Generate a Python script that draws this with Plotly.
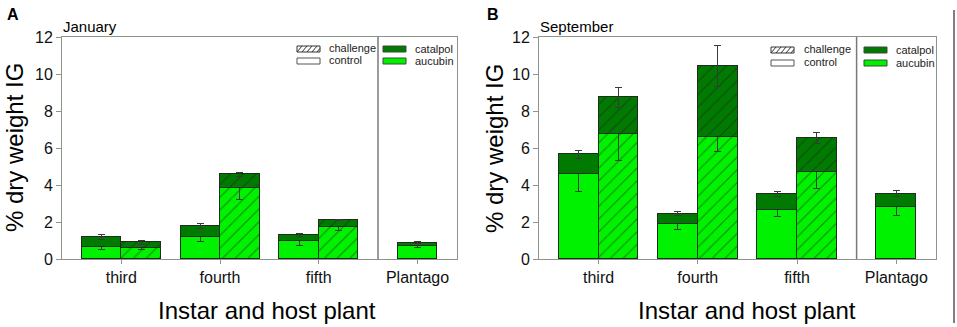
import plotly.graph_objects as go

W, H = 957, 327

# ---------------- data ----------------
categories = ["third", "fourth", "fifth", "Plantago"]
challenge_categories = ["third", "fourth", "fifth"]

months = ["January", "September"]
panel_letters = ["A", "B"]

# January (panel A)
jan_control_aucubin = [0.67, 1.17, 0.97, 0.72]
jan_control_catalpol = [0.50, 0.61, 0.34, 0.16]
jan_challenge_aucubin = [0.61, 3.85, 1.75]
jan_challenge_catalpol = [0.29, 0.72, 0.35]
jan_control_aucubin_err = [0.14, 0.25, 0.24, 0.12]
jan_control_catalpol_err = [0.14, 0.15, 0.09, 0.06]
jan_challenge_aucubin_err = [0.10, 0.63, 0.19]
jan_challenge_catalpol_err = [0.10, 0.09, 0.04]

# September (panel B)
sep_control_aucubin = [4.57, 1.91, 2.66, 2.82]
sep_control_catalpol = [1.08, 0.54, 0.85, 0.72]
sep_challenge_aucubin = [6.77, 6.60, 4.71]
sep_challenge_catalpol = [1.96, 3.84, 1.84]
sep_control_aucubin_err = [0.94, 0.30, 0.38, 0.46]
sep_control_catalpol_err = [0.23, 0.10, 0.12, 0.17]
sep_challenge_aucubin_err = [1.47, 0.80, 0.90]
sep_challenge_catalpol_err = [0.52, 1.12, 0.28]

y_ticks = [0, 2, 4, 6, 8, 10, 12]

# ---------------- styling ----------------
FONT = "Arial, Liberation Sans, sans-serif"
C_AUC = "#00f200"
C_CAT = "#017a01"
C_EDGE = "#1c2e1c"
C_ERR = "#3a3a3a"
C_AX = "#8c948c"

def px(x):
    return x / W

def py(y):
    return 1 - y / H

panels = [
    dict(month=months[0], letter=panel_letters[0], xoff=0, plot=(62, 457), title_cx=267,
         ca=jan_control_aucubin, cc=jan_control_catalpol,
         ha=jan_challenge_aucubin, hc=jan_challenge_catalpol,
         cae=jan_control_aucubin_err, cce=jan_control_catalpol_err,
         hae=jan_challenge_aucubin_err, hce=jan_challenge_catalpol_err,
         leg=dict(sw1=297, t1=327, sw2=383, t2=413, y1=49, y2=61)),
    dict(month=months[1], letter=panel_letters[1], xoff=480, plot=(539, 936), title_cx=747,
         ca=sep_control_aucubin, cc=sep_control_catalpol,
         ha=sep_challenge_aucubin, hc=sep_challenge_catalpol,
         cae=sep_control_aucubin_err, cce=sep_control_catalpol_err,
         hae=sep_challenge_aucubin_err, hce=sep_challenge_catalpol_err,
         leg=dict(sw1=771, t1=802, sw2=864, t2=894, y1=50, y2=63)),
]

PLOT_TOP, PLOT_BOT = 37, 259

fig = go.Figure()
shapes = []
annotations = []

ctrl_x = [i - 0.2 for i in range(len(categories))]
ctrl_x[-1] = len(categories) - 1  # Plantago bar centred
chal_x = [i + 0.2 for i in range(len(challenge_categories))]

for k, p in enumerate(panels):
    sfx = "" if k == 0 else "2"
    xa, ya = "x" + sfx, "y" + sfx
    err = dict(type="data", visible=True, color=C_ERR, thickness=1, width=3.5)
    edge = dict(color=C_EDGE, width=1)
    hatch = dict(shape="/", fgcolor="#1a1a1a", size=9, solidity=0.12)

    fig.add_trace(go.Bar(x=ctrl_x, y=p["ca"], width=0.4, marker=dict(color=C_AUC, line=edge),
                         error_y=dict(array=p["cae"], **err), xaxis=xa, yaxis=ya, showlegend=False))
    fig.add_trace(go.Bar(x=ctrl_x, y=p["cc"], width=0.4, marker=dict(color=C_CAT, line=edge),
                         error_y=dict(array=p["cce"], **err), xaxis=xa, yaxis=ya, showlegend=False))
    fig.add_trace(go.Bar(x=chal_x, y=p["ha"], width=0.4,
                         marker=dict(color=C_AUC, line=edge, pattern=dict(bgcolor=C_AUC, **hatch)),
                         error_y=dict(array=p["hae"], **err), xaxis=xa, yaxis=ya, showlegend=False))
    fig.add_trace(go.Bar(x=chal_x, y=p["hc"], width=0.4,
                         marker=dict(color=C_CAT, line=edge, pattern=dict(bgcolor=C_CAT, **hatch)),
                         error_y=dict(array=p["hce"], **err), xaxis=xa, yaxis=ya, showlegend=False))

    x0, x1 = p["plot"]
    dom_x = [px(x0), px(x1)]
    dom_y = [py(PLOT_BOT), py(PLOT_TOP)]
    axx = dict(domain=dom_x, range=[-0.6, 3.4], tickvals=list(range(len(categories))),
               ticktext=categories, ticks="outside", ticklen=4, tickcolor=C_AX,
               showline=True, linecolor=C_AX, linewidth=1, mirror=True, showgrid=False,
               zeroline=False, anchor=ya, automargin=False,
               tickfont=dict(family=FONT, size=16, color="#111"))
    axy = dict(domain=dom_y, range=[0, 12], tickvals=y_ticks, ticks="outside", ticklen=5,
               tickcolor=C_AX, showline=True, linecolor=C_AX, linewidth=1, mirror=True,
               showgrid=False, zeroline=False, anchor=xa, automargin=False,
               tickfont=dict(family=FONT, size=16, color="#111"))
    fig.update_layout(**{"xaxis" + sfx: axx, "yaxis" + sfx: axy})

    shapes.append(dict(type="line", xref=xa, yref=ya + " domain", x0=2.6, x1=2.6, y0=0, y1=1,
                       line=dict(color="#7a7a7a", width=1.5)))

    xo = p["xoff"]
    annotations.append(dict(text="<b>" + p["letter"] + "</b>", x=px(xo + 13), y=py(14),
                            xref="paper", yref="paper", showarrow=False,
                            font=dict(family=FONT, size=16, color="#000"),
                            xanchor="center", yanchor="middle"))
    annotations.append(dict(text=p["month"], x=px(x0 - 1), y=py(27), xref="paper", yref="paper",
                            showarrow=False, font=dict(family=FONT, size=15, color="#000"),
                            xanchor="left", yanchor="middle"))
    annotations.append(dict(text="% dry weight IG", x=px(xo + 14), y=py(148), xref="paper",
                            yref="paper", showarrow=False, textangle=-90,
                            font=dict(family=FONT, size=24, color="#000"),
                            xanchor="center", yanchor="middle"))
    annotations.append(dict(text="Instar and host plant", x=px(p["title_cx"]), y=py(310),
                            xref="paper", yref="paper", showarrow=False,
                            font=dict(family=FONT, size=24, color="#000"),
                            xanchor="center", yanchor="middle"))

    L = p["leg"]
    sw_w, sw_h = 23, 6
    lf = dict(family=FONT, size=11, color="#222")
    sx, sy = L["sw1"], L["y1"]
    shapes.append(dict(type="rect", xref="paper", yref="paper", x0=px(sx), x1=px(sx + sw_w),
                       y0=py(sy + sw_h / 2), y1=py(sy - sw_h / 2),
                       line=dict(color="#333", width=1), fillcolor="white"))
    for hx in range(0, sw_w, 5):
        a0 = sx + hx
        a1 = min(a0 + 5, sx + sw_w)
        shapes.append(dict(type="line", xref="paper", yref="paper", x0=px(a0), x1=px(a1),
                           y0=py(sy + sw_h / 2), y1=py(sy + sw_h / 2 - (a1 - a0) * sw_h / 5),
                           line=dict(color="#333", width=1)))
    annotations.append(dict(text="challenge", x=px(L["t1"]), y=py(sy - 1), xref="paper",
                            yref="paper", showarrow=False, font=lf, xanchor="left",
                            yanchor="middle"))
    sy = L["y2"]
    shapes.append(dict(type="rect", xref="paper", yref="paper", x0=px(sx), x1=px(sx + sw_w),
                       y0=py(sy + sw_h / 2), y1=py(sy - sw_h / 2),
                       line=dict(color="#555", width=1), fillcolor="white"))
    annotations.append(dict(text="control", x=px(L["t1"]), y=py(sy - 1), xref="paper",
                            yref="paper", showarrow=False, font=lf, xanchor="left",
                            yanchor="middle"))
    sx = L["sw2"]
    for yy, col, name in [(L["y1"], C_CAT, "catalpol"), (L["y2"], C_AUC, "aucubin")]:
        shapes.append(dict(type="rect", xref="paper", yref="paper", x0=px(sx), x1=px(sx + sw_w),
                           y0=py(yy + sw_h / 2), y1=py(yy - sw_h / 2),
                           line=dict(color="#3a4a3a", width=1), fillcolor=col))
        annotations.append(dict(text=name, x=px(L["t2"]), y=py(yy), xref="paper", yref="paper",
                                showarrow=False, font=lf, xanchor="left", yanchor="middle"))

shapes.append(dict(type="line", xref="paper", yref="paper", x0=px(954), x1=px(954),
                   y0=py(10), y1=py(323), line=dict(color="#555", width=1.5)))

fig.update_layout(
    width=W, height=H, barmode="stack", bargap=0,
    margin=dict(l=0, r=0, t=0, b=0, pad=0, autoexpand=False),
    paper_bgcolor="white", plot_bgcolor="white",
    font=dict(family=FONT),
    shapes=shapes, annotations=annotations, showlegend=False,
)

fig.write_html("out.html", config={"displayModeBar": False},
               post_script="document.body.style.margin='0';document.body.style.overflow='hidden';")
